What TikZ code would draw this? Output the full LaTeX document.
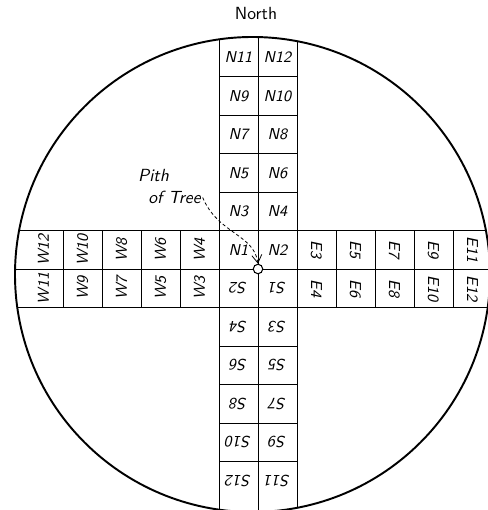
\documentclass[tikz,border=0pt]{standalone}
\usepackage{tikz}
\usetikzlibrary{arrows.meta}
\tikzset{
  fig/rim/.style  ={draw=black, line width=1.1pt},
  fig/grid/.style ={draw=black, line width=0.55pt},
  fig/cell/.style ={font=\sffamily\itshape\fontsize{9}{10}\selectfont, inner sep=0pt},
  fig/title/.style={font=\sffamily\fontsize{10}{12}\selectfont},
  fig/note/.style ={font=\sffamily\itshape\fontsize{10}{12}\selectfont, inner sep=1pt},
  fig/pith/.style ={circle, draw=black, line width=0.6pt, fill=white,
                    minimum size=0.19cm, inner sep=0pt},
  fig/arr/.style  ={-{Straight Barb[length=1.6mm, width=2mm]}, line width=0.45pt,
                    dash pattern=on 1.8pt off 1.4pt}
}
\begin{document}
\begin{tikzpicture}[x=0.02cm, y=0.02cm]
    % one pixel of the drawing = one unit
    \def\W{39}       % width of one cell
    \def\H{38.5}     % height of one cell
    \def\R{237.5}    % radius of the log
    \useasboundingbox (-258,-241) rectangle (229,269);
    % --- the two strips, cut off at the bark ---
    \begin{scope}
      \clip (-5.5,-5.5) circle (\R);
      \foreach \s in {-1,0,1} {
        \draw[fig/grid] (-300,\s*\H) -- (300,\s*\H);
        \draw[fig/grid] (\s*\W,-300) -- (\s*\W,300);
      }
      \foreach \k in {2,...,5} {
        \draw[fig/grid] (\k*\W,-\H) -- (\k*\W,\H);
        \draw[fig/grid] (-\k*\W,-\H) -- (-\k*\W,\H);
        \draw[fig/grid] (-\W,\k*\H) -- (\W,\k*\H);
        \draw[fig/grid] (-\W,-\k*\H) -- (\W,-\k*\H);
      }
    \end{scope}
    % outline of the log
    \draw[fig/rim] (-5.5,-5.5) circle (\R);
    % --- north and south strips ---
    \foreach \r in {1,...,6} {
      \pgfmathtruncatemacro\a{2*\r-1}
      \pgfmathtruncatemacro\b{2*\r}
      \node[fig/cell] (N\a) at (-\W/2, {(\r-0.5)*\H}) {N\a};
      \node[fig/cell] (N\b) at (\W/2, {(\r-0.5)*\H}) {N\b};
      \node[fig/cell, rotate=180] (S\b) at (-\W/2, {-(\r-0.5)*\H}) {S\b};
      \node[fig/cell, rotate=180] (S\a) at (\W/2, {-(\r-0.5)*\H}) {S\a};
    }
    % --- west and east strips ---
    \foreach \c in {2,...,6} {
      \pgfmathtruncatemacro\a{2*\c-1}
      \pgfmathtruncatemacro\b{2*\c}
      \node[fig/cell, rotate=90] (W\b) at ({-(\c-0.5)*\W}, \H/2) {W\b};
      \node[fig/cell, rotate=90] (W\a) at ({-(\c-0.5)*\W}, -\H/2) {W\a};
      \node[fig/cell, rotate=-90] (E\a) at ({(\c-0.5)*\W}, \H/2) {E\a};
      \node[fig/cell, rotate=-90] (E\b) at ({(\c-0.5)*\W}, -\H/2) {E\b};
    }
    % pith and its label
    \node[fig/pith] (pith) at (0,0) {};
    \node[fig/note] (pithtext) at (-104.5,93) {Pith};
    \node[fig/note] (treetext) at (-83.5,71.5) {of Tree};
    \draw[fig/arr] (treetext.east) .. controls (-40,35) and (-4,35) .. (pith.north);
    \node[fig/title] (north) at (-2,255) {North};
\end{tikzpicture}
\end{document}
